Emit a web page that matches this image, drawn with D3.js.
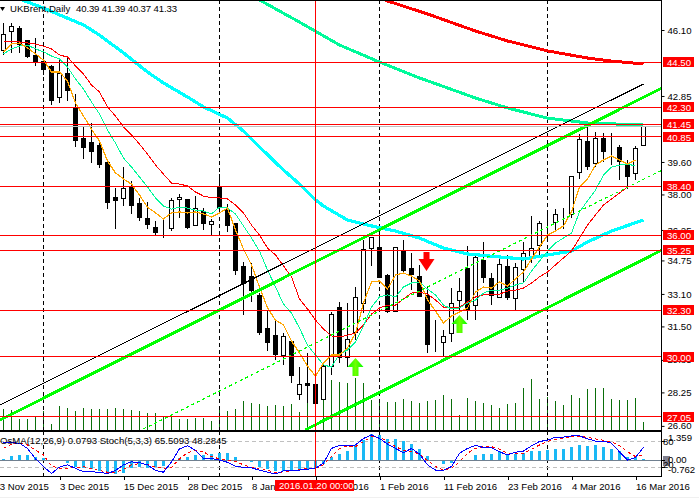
<!DOCTYPE html>
<html>
<head>
<meta charset="utf-8">
<script src="https://d3js.org/d3.v7.min.js"></script>
<style>
html, body { margin: 0; padding: 0; background: #fff; overflow: hidden; }
svg { display: block; }
text { font-family: "Liberation Sans", sans-serif; font-size: 9.6px; fill: #000; }
.crisp { shape-rendering: crispEdges; }
.domain { display: none; }
</style>
</head>
<body>
<div id="chart"></div>
<script>
// daily candles, one entry per bar
var opens = [45.12,46.00,46.15,45.56,44.82,44.57,44.28,42.80,43.98,42.26,40.78,40.58,40.39,39.55,37.83,37.78,38.37,37.53,36.84,36.35,36.35,36.30,37.73,37.73,36.49,37.18,36.54,38.32,37.28,36.59,34.47,33.94,33.04,31.42,31.07,30.09,30.78,28.17,28.71,28.66,27.92,29.55,32.41,29.99,31.17,32.65,35.31,35.41,34.03,32.26,35.26,34.33,33.98,33.04,30.83,30.68,31.17,32.80,34.33,32.50,34.77,33.84,32.95,34.47,32.85,34.33,34.97,35.51,36.49,36.59,36.94,36.99,39.11,40.63,39.55,40.78,40.24,40.29,39.50,39.01,40.39];
var highs = [46.44,46.44,46.30,45.61,45.71,45.12,44.38,44.62,44.77,42.95,41.37,41.52,40.58,39.70,38.32,39.35,38.66,37.83,37.63,36.69,36.84,37.83,38.02,37.78,37.93,37.33,36.79,39.00,37.53,36.59,34.67,34.62,33.14,32.26,31.86,31.17,30.83,29.50,30.19,29.11,29.75,32.21,32.70,32.65,33.44,35.76,35.86,35.95,34.08,35.41,35.76,35.11,34.52,33.44,31.81,31.32,33.39,33.89,35.46,35.02,35.66,34.13,34.82,35.02,34.62,35.66,36.94,36.69,37.23,37.28,37.33,38.91,40.97,41.32,41.08,41.03,41.03,40.43,39.70,40.39,41.39];
var lows = [44.87,44.97,44.97,44.72,44.33,43.88,42.41,42.50,42.60,40.34,39.75,39.55,39.30,37.28,36.30,37.43,37.04,36.69,36.30,36.00,35.85,36.20,36.84,36.30,36.44,36.25,36.00,37.18,36.15,34.03,32.06,32.70,31.07,30.29,29.84,29.60,28.71,27.87,27.73,27.73,27.92,29.11,29.70,29.50,30.83,32.16,34.48,33.89,32.16,32.26,34.18,33.29,32.95,30.19,30.24,29.99,30.73,32.31,31.81,31.81,33.64,32.55,32.95,32.80,32.26,33.64,34.62,34.97,35.66,36.15,36.30,36.84,38.76,39.20,39.35,39.60,39.45,38.71,38.27,38.71,40.37];
var closes = [45.90,46.25,45.36,44.77,44.52,44.18,42.60,43.98,43.14,40.63,40.34,40.14,39.45,37.58,37.68,38.27,37.43,36.84,36.54,36.10,36.35,37.68,37.83,36.35,37.33,36.59,36.69,37.33,36.49,34.28,33.64,33.24,31.22,30.73,30.14,31.02,29.11,28.66,28.61,27.73,29.55,32.11,29.94,30.88,32.90,35.31,35.86,33.94,32.26,35.41,34.28,34.03,32.99,30.63,30.83,30.98,32.65,33.24,32.26,34.87,33.94,32.99,34.57,32.95,34.38,35.11,35.36,36.59,36.49,36.99,36.94,38.86,40.73,39.40,40.78,40.14,40.24,39.60,38.86,40.24,41.33];
var volumes = [21,20,11,11,14,19,6,24,22,19,22,21,21,21,22,21,20,19,17,17,13,15,11,11,12,12,9,21,19,21,29,27,26,24,25,24,26,18,30,28,35,50,48,47,52,47,30,29,28,28,31,29,27,29,30,35,31,15,32,29,27,25,22,26,27,42,51,31,33,29,25,35,32,41,42,42,31,30,30,32,8];

// fast moving averages, one value per bar from bar 0
var maOrange = [45.02,45.41,45.46,45.22,44.92,44.62,44.03,44.03,43.59,42.50,41.86,41.22,40.63,39.65,39.06,38.76,38.51,37.97,37.38,37.09,36.79,37.09,37.14,37.09,37.14,37.04,36.89,37.09,37.33,36.25,35.31,34.53,33.44,32.41,31.81,31.57,30.78,30.19,29.55,29.05,29.70,30.09,30.09,30.44,31.17,32.65,33.69,33.74,33.34,34.03,34.13,33.98,33.74,32.80,32.26,31.67,32.01,32.21,32.41,33.19,33.44,33.39,33.69,33.49,33.84,34.18,34.82,35.41,36.00,36.20,36.45,37.14,38.37,38.76,39.45,39.70,39.89,39.70,39.50,39.70];
var maGreen = [44.92,45.17,45.31,45.36,45.17,45.02,44.82,44.67,44.28,43.69,43.19,42.55,41.96,41.17,40.53,39.79,39.35,38.86,38.37,37.83,37.43,37.28,37.38,37.33,37.23,37.18,37.04,37.38,37.33,37.04,36.45,35.85,35.21,34.28,33.44,32.60,32.16,31.42,30.58,30.09,29.60,29.50,30.14,30.34,30.73,31.52,32.45,32.95,33.05,32.95,33.44,33.64,33.69,33.34,33.05,32.55,32.36,32.41,32.65,32.80,33.14,33.29,33.29,33.39,33.54,33.64,34.23,34.72,35.21,35.61,35.85,36.10,37.14,37.68,38.22,38.96,39.35,39.45,39.50,39.40];
var maRed = [45.51,45.51,45.51,45.46,45.41,45.31,45.17,44.87,44.77,44.33,43.93,43.39,43.05,42.31,41.86,41.32,40.93,40.48,39.99,39.45,39.00,38.56,38.51,38.42,38.12,37.92,37.83,37.83,37.78,37.48,37.09,36.49,36.00,35.36,35.02,34.48,33.94,32.85,32.36,31.81,31.37,31.03,30.98,31.07,31.17,31.57,32.11,32.41,32.55,32.55,32.85,33.14,33.19,33.09,32.80,32.45,32.45,32.45,32.70,32.95,33.05,33.09,33.09,33.24,33.29,33.39,33.64,33.94,34.18,34.53,34.87,35.21,35.85,36.49,36.99,37.48,37.78,38.07,38.37];

// slow averages, read at some bars only
var cyanBars = [0,2,3,5,10,12,15,18,20,23,25,28,30,32,35,37,39,40,43,46,49,52,55,58,62,65,68,71,73,76,80];
var cyanValues = [47.82,47.63,47.48,47.18,46.35,45.85,44.97,44.03,43.49,42.80,42.31,41.76,41.12,40.34,39.20,38.51,37.73,37.43,36.74,36.45,36.20,35.85,35.36,35.07,34.92,34.82,35.02,35.21,35.66,36.20,36.74];
var springBars = [28,32,37,42,47,52,59,63,68,73,80];
var springValues = [48.32,47.58,46.49,45.36,44.52,43.74,42.75,42.26,41.76,41.52,41.42];
var slowRedBars = [47,48,53,59,63,68,73,76,80];
var slowRedValues = [47.73,47.53,46.89,46.05,45.56,45.07,44.72,44.57,44.43];

// oscillator pane
var osma = [0.05,0.23,0.28,0.28,0.16,0.10,0,-0.05,-0.12,-0.33,-0.42,-0.47,-0.54,-0.59,-0.73,-0.64,-0.42,-0.36,-0.42,-0.33,-0.29,0,0.14,0.19,0.28,0.28,0.33,0.36,0.40,0.19,0,-0.10,-0.33,-0.47,-0.54,-0.54,-0.54,-0.50,-0.47,-0.42,-0.19,0.19,0.33,0.50,0.78,1.04,1.35,1.30,1.09,1.09,0.99,0.83,0.57,0.21,0,-0.21,-0.16,0,0,0.26,0.31,0.31,0.47,0.31,0.31,0.36,0.47,0.47,0.52,0.57,0.57,0.68,0.78,0.73,0.78,0.68,0.57,0.47,0.16,0.16,0.08];
var stochMain = [77,76,75,63,39,21,5,20,25,17,9,9,8,5,12,25,32,30,25,12,8,32,62,69,59,39,40,36,31,22,19,18,13,8,4,11,13,13,15,17,29,63,70,70,71,86,94,86,73,63,53,63,50,25,13,13,21,52,63,70,65,65,55,48,54,57,69,79,82,89,89,92,92,85,80,80,75,55,36,42,65.5];
var stochSignal = [63,73,76,71,59,48,22,17,17,19,21,16,12,8,8,15,25,28,26,20,17,19,39,53,59,55,44,39,36,33,25,19,17,13,7,9,11,15,16,17,25,44,63,69,67,79,90,89,79,67,59,55,50,35,21,13,17,32,52,63,67,67,61,52,52,52,61,71,79,84,86,90,90,89,85,82,78,69,55,44,48.3];

// levels and tick labels
var levels = [44.50,42.30,41.45,40.85,38.40,36.00,35.25,32.30,30.00,27.05];
var priceTicks = [46.10,42.85,39.60,38.00,36.25,34.75,33.10,31.50,29.85,28.25,26.60];
var dateTickBars = [-1,7,15,23,31,39,47,55,63,71,79];
var dateLabels = ["23 Nov 2015","3 Dec 2015","15 Dec 2015","28 Dec 2015","8 Jan 2016","20 Jan 2016","1 Feb 2016","11 Feb 2016","23 Feb 2016","4 Mar 2016","16 Mar 2016"];
var separatorBars = [5,27,47,68];
var crossBar = 39;
var crossLabel = "2016.01.20 00:00";
var lastPrice = 41.33;

// trend channel, two ends each: [bar, price]
var channelBlack = [[-0.44,27.63],[80,43.44]];
var channelUpper = [[-0.44,26.89],[82.3,43.24]];
var channelLower = [[37.7,26.40],[82.3,35.26]];
var channelDashed = [[17.46,26.45],[82.3,39.20]];

var arrowsUp = [[44,29.94],[57,32.06]];
var arrowsDown = [[53,34.23]];

var width = 699, height = 498, axisX = 661.5;

var x = d3.scaleLinear().domain([0,80]).range([3.5,643.5]);
var y = d3.scaleLinear().domain([46.10,26.60]).range([30,425.9]);
var yVol = d3.scaleLinear().domain([0,60]).range([430,370]);
var yOsma = d3.scaleLinear().domain([0,1.359]).range([460.3,434.3]);
var yStoch = d3.scaleLinear().domain([0,100]).range([475.7,432.4]);

var svg = d3.select("#chart").append("svg").attr("width",width).attr("height",height);
var defs = svg.append("defs");
defs.append("clipPath").attr("id","mainClip").append("rect").attr("x",0).attr("y",0).attr("width",axisX).attr("height",430);
defs.append("clipPath").attr("id","oscClip").append("rect").attr("x",0).attr("y",431).attr("width",axisX).attr("height",45);
var grad = defs.append("linearGradient").attr("id","upFill");
grad.append("stop").attr("offset","0%").attr("stop-color","#00ff00");
grad.append("stop").attr("offset","50%").attr("stop-color","#70ff00");
grad.append("stop").attr("offset","100%").attr("stop-color","#00ff00");

function snap(v){ return Math.round(v - 0.5) + 0.5; }

svg.append("rect").attr("width",width).attr("height",height).attr("fill","#fff");
svg.append("rect").attr("y",497).attr("width",width).attr("height",1).attr("fill","#f0f0f0");

var main = svg.append("g").attr("clip-path","url(#mainClip)");

// volume
main.append("g").attr("class","crisp").selectAll("line").data(volumes).join("line")
    .attr("x1",(d,i)=>snap(x(i))).attr("x2",(d,i)=>snap(x(i)))
    .attr("y1",yVol(0)).attr("y2",d=>yVol(d))
    .attr("stroke","#0a6e0a");

// period separators
main.append("g").attr("class","crisp").selectAll("line").data(separatorBars).join("line")
    .attr("x1",d=>snap(x(d))).attr("x2",d=>snap(x(d)))
    .attr("y1",0).attr("y2",430)
    .attr("stroke","#000").attr("stroke-dasharray","4,3");

// candles
var candle = main.append("g").attr("class","crisp").selectAll("g").data(opens).join("g");
candle.append("line")
    .attr("x1",(d,i)=>snap(x(i))).attr("x2",(d,i)=>snap(x(i)))
    .attr("y1",(d,i)=>y(highs[i])).attr("y2",(d,i)=>y(lows[i]))
    .attr("stroke","#000");
candle.append("rect")
    .attr("x",(d,i)=>snap(x(i))-2)
    .attr("width",4)
    .attr("y",(d,i)=>snap(y(Math.max(opens[i],closes[i]))))
    .attr("height",(d,i)=>Math.round(Math.abs(y(opens[i])-y(closes[i]))))
    .attr("fill",(d,i)=>closes[i]>opens[i]?"#fff":"#000")
    .attr("stroke","#000");

// moving averages
var lineByBar = d3.line().x((d,i)=>x(i)).y(d=>y(d));
var lineKnots = d3.line().x(d=>x(d[0])).y(d=>y(d[1]));
function addMa(vals,color,w){
    main.append("path").attr("class","crisp").attr("d",lineByBar(vals)).attr("fill","none")
        .attr("stroke",color).attr("stroke-width",w);
}
function addSlow(bars,vals,color,w){
    main.append("path").attr("class","crisp").attr("d",lineKnots(bars.map((b,i)=>[b,vals[i]]))).attr("fill","none")
        .attr("stroke",color).attr("stroke-width",w);
}
addSlow(cyanBars,cyanValues,"#00ffff",3.2);
addSlow(springBars,springValues,"#00fa9a",3);
addSlow(slowRedBars,slowRedValues,"#ff0000",3);
addMa(maRed,"#ff0000",1);
addMa(maGreen,"#00fa9a",1);
addMa(maOrange,"#ffa500",1.2);

// channel
function addChannel(pts,color,w,dash){
    main.append("path").attr("class","crisp").attr("d",lineKnots(pts)).attr("fill","none")
        .attr("stroke",color).attr("stroke-width",w).attr("stroke-dasharray",dash||null);
}
addChannel(channelBlack,"#000",1);
addChannel(channelDashed,"#00ff00",1.3,"3,3");
addChannel(channelUpper,"#00ff00",3);
addChannel(channelLower,"#00ff00",3);

// last price and levels
main.append("line").attr("class","crisp").attr("x1",0).attr("x2",axisX)
    .attr("y1",snap(y(lastPrice))).attr("y2",snap(y(lastPrice))).attr("stroke","#c0c0c0");
main.append("g").attr("class","crisp").selectAll("line").data(levels).join("line")
    .attr("x1",0).attr("x2",axisX)
    .attr("y1",d=>snap(y(d))).attr("y2",d=>snap(y(d)))
    .attr("stroke","#ff0000");

// signal arrows
var upShape = "M0,0L8,9L3,9L3,18L-3,18L-3,9L-8,9Z";
var downShape = "M0,0L8,-12L3,-12L3,-19L-3,-19L-3,-12L-8,-12Z";
main.selectAll(".up").data(arrowsUp).join("path").attr("class","up")
    .attr("transform",d=>"translate("+x(d[0])+","+y(d[1])+")")
    .attr("d",upShape).attr("fill","url(#upFill)");
main.selectAll(".down").data(arrowsDown).join("path").attr("class","down")
    .attr("transform",d=>"translate("+(x(d[0])-1)+","+y(d[1])+")")
    .attr("d",downShape).attr("fill","#ff0000");

// header
svg.append("path").attr("d","M0,7L5,7L2.5,11Z").attr("fill","#000");
svg.append("text").attr("x",10).attr("y",12).text("UKBrent,Daily");
svg.append("text").attr("x",76).attr("y",12).attr("textLength",101).text("40.39 41.39 40.37 41.33");

// oscillator pane
var osc = svg.append("g").attr("clip-path","url(#oscClip)");
osc.append("g").attr("class","crisp").selectAll("line").data(separatorBars).join("line")
    .attr("x1",d=>snap(x(d))).attr("x2",d=>snap(x(d)))
    .attr("y1",431).attr("y2",476)
    .attr("stroke","#000").attr("stroke-dasharray","4,3");
osc.append("g").attr("class","crisp").selectAll("line").data([80,20]).join("line")
    .attr("x1",0).attr("x2",axisX)
    .attr("y1",d=>snap(yStoch(d))).attr("y2",d=>snap(yStoch(d)))
    .attr("stroke","#c0c0c0").attr("stroke-dasharray","4,3");
osc.append("g").attr("class","crisp").selectAll("rect").data(osma).join("rect")
    .attr("x",(d,i)=>snap(x(i))-1.5)
    .attr("width",3)
    .attr("y",d=>Math.min(yOsma(d),yOsma(0)))
    .attr("height",d=>Math.abs(yOsma(d)-yOsma(0)))
    .attr("fill","#1ab8f5");
osc.append("line").attr("class","crisp").attr("x1",0).attr("x2",axisX)
    .attr("y1",yOsma(0)).attr("y2",yOsma(0)).attr("stroke","#708090").attr("stroke-width",1.5);
var lineStoch = d3.line().x((d,i)=>x(i)).y(d=>yStoch(d));
osc.append("path").attr("d",lineStoch(stochSignal)).attr("fill","none")
    .attr("stroke","#ff0000").attr("stroke-dasharray","3,3").attr("class","crisp");
osc.append("path").attr("d",lineStoch(stochMain)).attr("fill","none")
    .attr("stroke","#0000ff").attr("class","crisp");
svg.append("text").attr("x",0).attr("y",444).attr("fill","#333")
    .text("OsMA(12,26,9) 0.0793  Stoch(5,3,3) 65.5093 48.2845");

// selected date marker
svg.append("line").attr("class","crisp").attr("x1",snap(x(crossBar))).attr("x2",snap(x(crossBar)))
    .attr("y1",0).attr("y2",476).attr("stroke","#ff0000");

// frame
var frame = svg.append("g").attr("class","crisp");
frame.append("line").attr("x1",0).attr("x2",axisX).attr("y1",0.5).attr("y2",0.5).attr("stroke","#000");
frame.append("rect").attr("x",0).attr("y",430).attr("width",axisX).attr("height",2).attr("fill","#000");
frame.append("line").attr("x1",0).attr("x2",axisX).attr("y1",476.5).attr("y2",476.5).attr("stroke","#000");
frame.append("line").attr("x1",axisX).attr("x2",axisX).attr("y1",0).attr("y2",477).attr("stroke","#000");

// price axis
svg.append("g").attr("transform","translate("+axisX+",0)")
    .call(d3.axisRight(y).tickValues(priceTicks).tickFormat(d3.format(".2f")).tickSize(3).tickPadding(3));
var levelTag = svg.append("g").selectAll("g").data(levels).join("g")
    .attr("transform",d=>"translate(663,"+Math.round(y(d))+")");
levelTag.append("rect").attr("x",0).attr("y",-5).attr("width",31).attr("height",10).attr("fill","#ff0000");
levelTag.append("text").attr("x",4).attr("y",3.5).style("fill","#fff").text(d=>d3.format(".2f")(d));

// oscillator scale
var oscAxis = svg.append("g");
oscAxis.append("rect").attr("x",663).attr("y",456).attr("width",7).attr("height",10).attr("fill","#808090");
var oscLabels = [["1.359",668,yOsma(1.359)+7],["80",663,yStoch(80)+4],["0.00",668,yOsma(0)+3],["20",663,yStoch(20)+1],["-0.762",668,yOsma(-0.762)-2]];
oscAxis.selectAll("text").data(oscLabels).join("text")
    .attr("x",d=>d[1]).attr("y",d=>d[2]).text(d=>d[0]);
oscAxis.selectAll(".tick").data([yStoch(80),yOsma(0),yStoch(20)]).join("line").attr("class","crisp")
    .attr("x1",axisX).attr("x2",axisX+3).attr("y1",d=>snap(d)).attr("y2",d=>snap(d)).attr("stroke","#000");

// date axis
var dateAxis = svg.append("g").attr("transform","translate(0,476.5)")
    .call(d3.axisBottom(x).tickValues(dateTickBars).tickFormat((d,i)=>dateLabels[i]).tickSize(3).tickPadding(2));
dateAxis.selectAll("text").attr("text-anchor","start").attr("dy","0.9em");
dateAxis.selectAll("line").attr("class","crisp");
// first label sits partly off the left edge
dateAxis.selectAll("text").filter((d,i)=>i==0).attr("dx",-1.5);

svg.append("rect").attr("x",x(crossBar)-40.5).attr("y",480).attr("width",79).attr("height",11).attr("fill","#ff0000");
svg.append("text").attr("x",x(crossBar)-36.5).attr("y",489).style("fill","#fff").text(crossLabel);
</script>
</body>
</html>
